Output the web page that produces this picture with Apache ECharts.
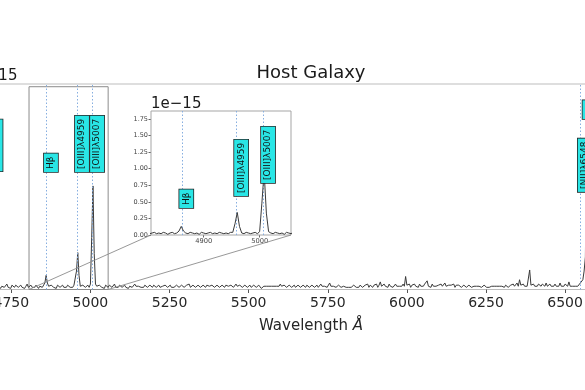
<!DOCTYPE html>
<html><head><meta charset="utf-8">
<script src="https://cdn.jsdelivr.net/npm/echarts@6/dist/echarts.min.js"></script>
<style>html,body{margin:0;padding:0;background:#fff}#c{width:585px;height:390px}</style>
</head><body><div id="c"></div>
<script>
// ---- data (flux in units of 1e-15) ----
const waveStart = 4700;
const waveStep = 4;
const flux = [
 0.03,0.02,0.04,0.03,0.01,0.03,0.04,0.02,0.03,0.05,0.02,0.03,0.01,0.04,0.03,0.02,0.04,0.03,0.02,0.03,
 0.04,0.02,0.03,0.01,0.03,0.05,0.02,0.03,0.04,0.02,0.03,0.02,0.04,0.03,0.01,0.03,0.04,0.02,0.03,0.06,
 0.13,0.06,0.03,0.02,0.04,0.03,0.02,0.03,0.01,0.04,0.03,0.02,0.03,0.04,0.02,0.03,0.02,0.04,0.03,0.02,
 0.03,0.02,0.04,0.04,0.17,0.34,0.13,0.03,0.02,0.04,0.03,0.02,0.03,0.04,0.02,0.05,0.48,0.955,0.33,0.05,
 0.03,0.02,0.04,0.03,0.02,0.03,0.01,0.04,0.03,0.02,0.04,0.03,0.02,0.03,0.05,0.02,0.03,0.02,0.04,0.03,
 0.02,0.03,0.04,0.02,0.03,0.01,0.03,0.04,0.02,0.03,0.05,0.03,0.02,0.03,0.04,0.02,0.03,0.02,0.04,0.03,
 0.02,0.03,0.04,0.03,0.02,0.04,0.03,0.02,0.03,0.04,0.02,0.03,0.03,0.02,0.04,0.03,0.02,0.03,0.04,0.02,
 0.03,0.02,0.03,0.04,0.03,0.02,0.03,0.04,0.03,0.02,0.03,0.04,0.03,0.05,0.02,0.03,0.04,0.03,0.02,0.03,
 0.04,0.03,0.02,0.03,0.04,0.03,0.02,0.04,0.03,0.03,0.02,0.04,0.03,0.02,0.03,0.04,0.05,0.02,0.03,0.04,
 0.03,0.02,0.04,0.03,0.03,0.02,0.04,0.03,0.02,0.03,0.05,0.03,0.02,0.04,0.03,0.02,0.03,0.04,0.03,0.02,
 0.03,0.04,0.02,0.03,0.04,0.03,0.02,0.03,0.04,0.03,0.01,0.02,0.03,0.02,0.03,0.02,0.03,0.04,0.03,0.02,
 0.03,0.04,0.03,0.02,0.03,0.05,0.03,0.02,0.04,0.03,0.02,0.03,0.04,0.03,0.02,0.03,0.04,0.02,0.03,0.04,
 0.03,0.02,0.03,0.04,0.03,0.02,0.04,0.03,0.02,0.03,0.04,0.03,0.02,0.03,0.04,0.02,0.03,0.05,0.03,0.02,
 0.03,0.04,0.02,0.03,0.06,0.03,0.02,0.03,0.04,0.02,0.03,0.04,0.03,0.02,0.01,0.03,0.02,0.02,0.03,0.02,
 0.03,0.02,0.03,0.04,0.03,0.02,0.03,0.02,0.04,0.03,0.02,0.03,0.04,0.03,0.05,0.02,0.04,0.03,0.02,0.04,
 0.03,0.05,0.02,0.04,0.07,0.03,0.02,0.05,0.03,0.04,0.02,0.05,0.03,0.04,0.02,0.03,0.05,0.03,0.04,0.03,
 0.04,0.03,0.05,0.03,0.12,0.04,0.03,0.05,0.02,0.04,0.03,0.05,0.03,0.04,0.02,0.05,0.03,0.04,0.03,0.05,
 0.04,0.08,0.03,0.04,0.02,0.05,0.03,0.04,0.03,0.02,0.04,0.03,0.05,0.03,0.04,0.06,0.03,0.02,0.04,0.03,
 0.04,0.03,0.05,0.02,0.04,0.03,0.04,0.03,0.02,0.03,0.04,0.03,0.02,0.03,0.04,0.03,0.02,0.03,0.03,0.02,
 0.03,0.02,0.03,0.03,0.02,0.03,0.04,0.03,0.02,0.03,0.02,0.03,0.03,0.02,0.03,0.04,0.03,0.02,0.03,0.02,
 0.03,0.03,0.02,0.04,0.03,0.02,0.03,0.04,0.03,0.05,0.03,0.02,0.06,0.03,0.09,0.04,0.03,0.05,0.03,0.04,
 0.03,0.04,0.18,0.04,0.03,0.05,0.03,0.04,0.03,0.05,0.04,0.03,0.05,0.04,0.03,0.06,0.03,0.04,0.05,0.03,
 0.04,0.03,0.05,0.03,0.04,0.03,0.06,0.03,0.04,0.03,0.05,0.04,0.03,0.07,0.03,0.04,0.03,0.02,0.03,0.03,
 0.03,0.04,0.06,0.05,0.09,0.17,0.30,1.30,0.45,0.08
];
const lineNames = ['HeIIλ4686','Hβ','[OIII]λ4959','[OIII]λ5007','[NII]λ6548','Hα'];
const lineWaves = [4686, 4861, 4959, 5007, 6548, 6563];
const mainLabelY = [1.09, 1.083, 1.083, 1.083, 0.90, 1.572];   // label base heights (1e-15)
const insetLabelY = [null, 0.407, 0.588, 0.784, null, null];
const mainXTicks = [4750,5000,5250,5500,5750,6000,6250,6500,6750];
const insetXTicks = [4900,5000];
const insetYTicks = [0,0.25,0.5,0.75,1.0,1.25,1.5,1.75];
const mainXRange = [4610, 6784], mainYRange = [0, 1.895];
const insetXRange = [4806, 5056], insetYRange = [0, 1.87];

const spectrum = flux.map((f, i) => [waveStart + waveStep * i, f]);

const FONT = 'DejaVu Sans';
const dotted = {color:'#86aee0', width:1, type:[1.5,2]};
function vlines(filter){
  return {silent:true, symbol:['none','none'], label:{show:false}, lineStyle:dotted,
    emphasis:{disabled:true}, animation:false,
    data: lineWaves.filter(filter).map(w => ({xAxis:w}))};
}

const chart = echarts.init(document.getElementById('c'), null, {renderer:'canvas'});
chart.setOption({
  animation:false,
  textStyle:{fontFamily:FONT},
  grid:[
    {left:-33, top:84, width:688, height:205.5, show:true, borderColor:'#bdbdbd', borderWidth:1.2,
     backgroundColor:'transparent', containLabel:false, outerBoundsMode:'none'},
    {left:151, top:111, width:140, height:124, show:true, borderColor:'#a5a5a5', borderWidth:1,
     backgroundColor:'#fff', z:5, containLabel:false, outerBoundsMode:'none'}
  ],
  xAxis:[
    {type:'value', gridIndex:0, min:mainXRange[0], max:mainXRange[1],
     axisLine:{show:false}, splitLine:{show:false},
     axisTick:{show:true, customValues:mainXTicks, length:3.5, lineStyle:{color:'#555'}},
     axisLabel:{customValues:mainXTicks, fontSize:14, color:'#262626', margin:7, fontFamily:FONT,
       formatter: v => String(v)},
     name:'Wavelength {i|Å}', nameLocation:'middle', nameGap:29,
     nameTextStyle:{fontSize:15, color:'#262626', fontFamily:FONT, rich:{i:{fontStyle:'italic', fontSize:15, fontFamily:FONT, color:'#262626'}}}},
    {type:'value', gridIndex:1, min:insetXRange[0], max:insetXRange[1],
     axisLine:{show:false}, splitLine:{show:false},
     axisTick:{show:true, customValues:insetXTicks, length:2.5, lineStyle:{color:'#666'}},
     axisLabel:{customValues:insetXTicks, fontSize:6.7, color:'#444', margin:3, fontFamily:FONT,
       formatter: v => String(v)}}
  ],
  yAxis:[
    {type:'value', gridIndex:0, min:mainYRange[0], max:mainYRange[1],
     axisLine:{show:false}, splitLine:{show:false}, axisTick:{show:false}, axisLabel:{show:false}},
    {type:'value', gridIndex:1, min:insetYRange[0], max:insetYRange[1],
     axisLine:{show:false}, splitLine:{show:false},
     axisTick:{show:true, customValues:insetYTicks, length:2.5, lineStyle:{color:'#666'}},
     axisLabel:{customValues:insetYTicks, fontSize:6.5, color:'#444', margin:3, fontFamily:FONT,
       formatter: v => v.toFixed(2)}}
  ],
  series:[
    {type:'line', xAxisIndex:0, yAxisIndex:0, data:spectrum, showSymbol:false, symbol:'none',
     lineStyle:{color:'#3a3a3a', width:1}, clip:true, z:3,
     markLine: vlines(w => true)},
    {type:'line', xAxisIndex:0, yAxisIndex:0, symbol:'none', showSymbol:false, silent:true, z:2,
     lineStyle:{color:'#8c8c8c', width:1},
     data:[[insetXRange[0],insetYRange[0]],[insetXRange[0],insetYRange[1]],[insetXRange[1],insetYRange[1]],[insetXRange[1],insetYRange[0]],[insetXRange[0],insetYRange[0]]]},
    {type:'line', xAxisIndex:1, yAxisIndex:1, data:spectrum, showSymbol:false, symbol:'none',
     lineStyle:{color:'#3a3a3a', width:1}, clip:true, z:6,
     markLine: vlines(w => w > insetXRange[0] && w < insetXRange[1])}
  ]
});

// annotations placed through the axes' own scales
const g = [];
const tl = chart.convertToPixel({gridIndex:1}, [insetXRange[0], insetYRange[0]]);
const tr = chart.convertToPixel({gridIndex:1}, [insetXRange[1], insetYRange[0]]);
const ml = chart.convertToPixel({gridIndex:0}, [insetXRange[0], insetYRange[0]]);
const mr = chart.convertToPixel({gridIndex:0}, [insetXRange[1], insetYRange[0]]);
g.push({type:'line', z:50, shape:{x1:tl[0],y1:tl[1],x2:ml[0],y2:ml[1]}, style:{stroke:'#8c8c8c', lineWidth:0.9}});
g.push({type:'line', z:50, shape:{x1:tr[0],y1:tr[1],x2:mr[0],y2:mr[1]}, style:{stroke:'#8c8c8c', lineWidth:0.9}});

function label(gridIndex, name, w, y){
  const p = chart.convertToPixel({gridIndex}, [w, y]);
  return {type:'text', z:60, x:p[0]+4.5, y:p[1], rotation:Math.PI/2,
    style:{text:name, fontSize:9, fontFamily:FONT, fill:'#111', align:'left', verticalAlign:'middle',
      backgroundColor:'#29e6e6', borderColor:'#222', borderWidth:0.8, padding:[2.5,3]}};
}
lineNames.forEach((n, i) => {
  g.push(label(0, n, lineWaves[i], mainLabelY[i]));
  if (insetLabelY[i] !== null) g.push(label(1, n, lineWaves[i], insetLabelY[i]));
});
const mt = chart.convertToPixel({gridIndex:0}, [mainXRange[0], mainYRange[1]]);
const mrt = chart.convertToPixel({gridIndex:0}, [mainXRange[1], mainYRange[1]]);
const it = chart.convertToPixel({gridIndex:1}, [insetXRange[0], insetYRange[1]]);
g.push({type:'text', z:60, x:(mt[0] + mrt[0]) / 2, y:73.5,
  style:{text:'Host Galaxy', fontSize:18, fontFamily:FONT, fill:'#1a1a1a', align:'center', verticalAlign:'middle'}});
g.push({type:'text', z:60, x:mt[0], y:mt[1]-8,
  style:{text:'1e−15', fontSize:15, fontFamily:FONT, fill:'#1a1a1a', align:'left', verticalAlign:'middle'}});
g.push({type:'text', z:60, x:it[0], y:it[1]-7,
  style:{text:'1e−15', fontSize:15, fontFamily:FONT, fill:'#1a1a1a', align:'left', verticalAlign:'middle'}});
chart.setOption({graphic:{elements:g}});
</script></body></html>
